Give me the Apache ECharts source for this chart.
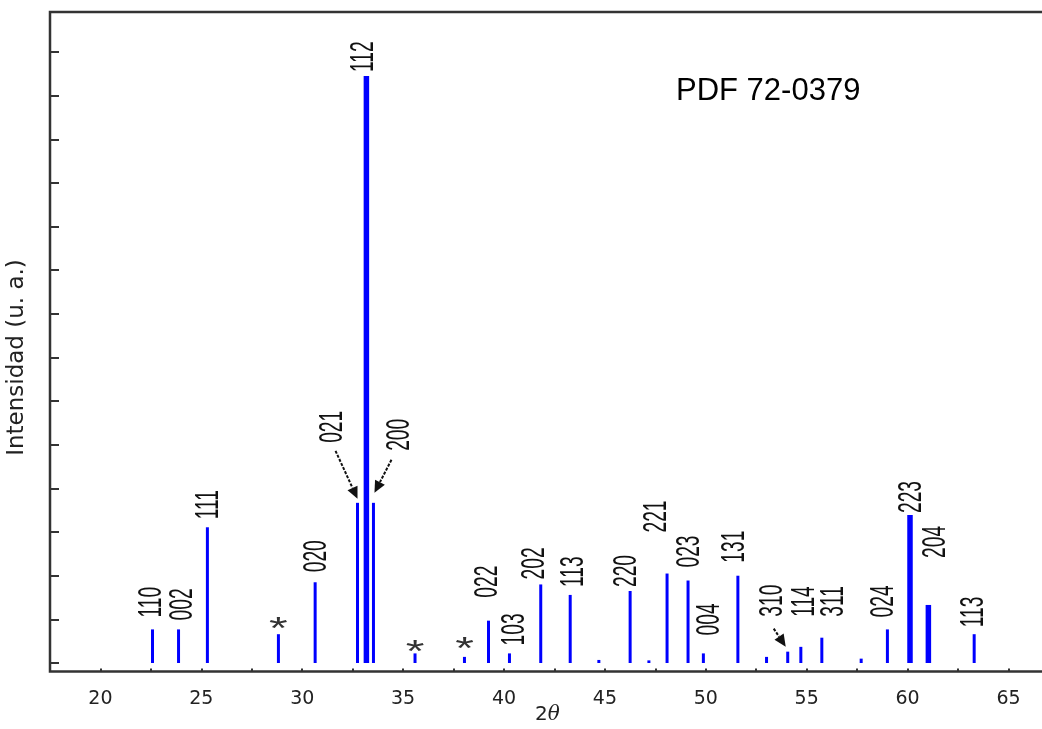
<!DOCTYPE html>
<html>
<head>
<meta charset="utf-8">
<script src="https://cdn.jsdelivr.net/npm/echarts@6/dist/echarts.min.js"></script>
<style>
html,body{margin:0;padding:0;background:#ffffff;}
#chart{width:1042px;height:729px;}
</style>
</head>
<body>
<div id="chart"></div>
<script>
// ---------------- DATA ----------------
// peak positions (2θ, degrees)
const twoTheta = [22.58, 23.87, 25.30, 28.82, 30.64, 32.74, 33.18, 33.53, 35.59, 38.04,
                  39.23, 40.27, 41.82, 43.28, 44.70, 46.25, 47.18, 48.08, 49.12, 49.88,
                  51.59, 53.01, 54.06, 54.71, 55.75, 57.70, 59.00, 60.12, 61.03, 63.30];
// relative intensities (arbitrary units, 10 units per y tick)
const intensity = [7.7, 7.7, 31.1, 6.6, 18.5, 36.7, 134.5, 36.7, 2.2, 1.4,
                   9.7, 2.2, 18.0, 15.6, 0.7, 16.5, 0.6, 20.5, 18.9, 2.2,
                   20.0, 1.4, 2.6, 3.7, 5.8, 1.0, 7.7, 33.9, 13.3, 6.6];
// Miller indices ('*' = impurity peak, '' = unlabeled)
const hkl = ['110','002','111','*','020','021','112','200','*','*',
             '022','103','202','113','','220','','221','023','004',
             '131','','310','114','311','','024','223','204','113'];
const xTickLabels = [20, 25, 30, 35, 40, 45, 50, 55, 60, 65];
const cardLabel = 'PDF 72-0379';
const yName = 'Intensidad (u. a.)';

// ---------------- LAYOUT / STYLE ----------------
const thickPeaks = ['112', '223', '204'];
// label nudges [dx px, gap px above bar top]
const labelNudge = {
  0:[-1,12], 1:[4.5,9], 2:[2,8], 4:[2,10], 5:[-25,60], 6:[-2,4], 7:[26,52],
  10:[-1,23], 11:[5,8], 12:[-6,5], 13:[4,8], 15:[-3.5,4], 17:[-10,41], 18:[1.5,13],
  19:[7,18], 20:[-3,13], 22:[-15,35], 23:[4,30], 24:[12,21], 26:[-4,12], 27:[2,2],
  28:[8,47], 29:[0,7]
};
const starGap = {3:11, 8:8, 9:14};
// arrows: [startDx, startDy, tipDx, tipDy] relative to bar top
const arrowSpec = {5:[-22,-52,0,-4], 7:[18,-43,1,-10], 22:[-14,-23,-2,-5]};

const X_MIN = 17.5, X_MAX = 66.81;
const BLUE = '#0000ff';

const chart = echarts.init(document.getElementById('chart'), null, {renderer:'canvas'});

function renderBar(params, api) {
  const i = params.dataIndex;
  const top = api.coord([api.value(0), api.value(1)]);
  const base = api.coord([api.value(0), 0]);
  const w = thickPeaks.indexOf(hkl[i]) >= 0 ? 5.5 : 3;
  return {
    type: 'rect',
    shape: {x: top[0] - w / 2, y: top[1], width: w, height: base[1] - top[1]},
    style: {fill: BLUE}
  };
}

function renderLabel(params, api) {
  const i = params.dataIndex;
  const name = hkl[i];
  if (!name) return null;
  const p = api.coord([api.value(0), api.value(1)]);
  if (name === '*') {
    const g = starGap[i] || 10;
    return {
      type: 'text', x: p[0], y: p[1] - g + 7.4, scaleX: 1.5, scaleY: 1,
      style: {text: '*', font: '32px "Liberation Sans", Arial, sans-serif', fill: '#333',
              align: 'center', verticalAlign: 'middle'}
    };
  }
  const nd = labelNudge[i] || [0, 8];
  const children = [{
    type: 'text', x: p[0] + nd[0], y: p[1] - nd[1], rotation: Math.PI / 2,
    scaleX: 0.96, scaleY: 1.65,
    style: {text: name, font: '20px "Liberation Sans", Arial, sans-serif', fill: '#111',
            align: 'left', verticalAlign: 'middle'}
  }];
  const a = arrowSpec[i];
  if (a) {
    const sx = p[0] + a[0], sy = p[1] + a[1], tx = p[0] + a[2], ty = p[1] + a[3];
    const ang = Math.atan2(ty - sy, tx - sx);
    const L = 12, H = 5.5;
    const bx = tx - L * Math.cos(ang), by = ty - L * Math.sin(ang);
    children.push({type: 'line', shape: {x1: sx, y1: sy, x2: bx, y2: by},
                   style: {stroke: '#111', lineWidth: 2, lineDash: [3, 1.5]}});
    children.push({type: 'polygon',
                   shape: {points: [[tx, ty],
                                    [bx - H * Math.sin(ang), by + H * Math.cos(ang)],
                                    [bx + H * Math.sin(ang), by - H * Math.cos(ang)]]},
                   style: {fill: '#111'}});
  }
  return {type: 'group', children: children};
}

const peakData = twoTheta.map((x, i) => [x, intensity[i]]);

const option = {
  animation: false,
  backgroundColor: '#ffffff',
  title: {
    text: cardLabel, left: 671, top: 71,
    textStyle: {fontFamily: '"Liberation Sans", Arial, sans-serif', fontSize: 31,
                fontWeight: 'normal', color: '#000'}
  },
  grid: [
    {left: 50, right: -3, top: 52, bottom: 66, show: false, outerBoundsMode: 'none', containLabel: false},
    {left: 50, right: -3, top: 12, bottom: 57.5, show: true, outerBoundsMode: 'none', containLabel: false,
     borderColor: '#333', borderWidth: 2.5, backgroundColor: 'transparent'}
  ],
  xAxis: [
    {type: 'value', gridIndex: 0, min: X_MIN, max: X_MAX, show: false},
    {type: 'value', gridIndex: 1, min: X_MIN, max: X_MAX, interval: 2.5,
     position: 'bottom',
     name: '2{t|θ}', nameLocation: 'middle', nameGap: 33, nameMoveOverlap: false,
     nameTextStyle: {fontFamily: '"DejaVu Sans", sans-serif', fontSize: 20, color: '#222',
                     rich: {t: {fontFamily: '"DejaVu Serif", serif', fontStyle: 'italic',
                                fontSize: 20, color: '#222'}}},
     axisLine: {show: false},
     axisTick: {show: true, inside: true, length: 3, lineStyle: {color: '#333', width: 2}},
     splitLine: {show: false},
     axisLabel: {show: true, margin: 18, color: '#222',
                 fontFamily: '"DejaVu Sans", sans-serif', fontSize: 19,
                 formatter: function (v) {
                   const r = Math.round(v);
                   return (Math.abs(v - r) < 1e-6 && xTickLabels.indexOf(r) >= 0) ? String(r) : '';
                 }}}
  ],
  yAxis: [
    {type: 'value', gridIndex: 0, min: 0, max: 140, interval: 10,
     name: yName, nameLocation: 'middle', nameRotate: 90, nameGap: 21,
     nameTextStyle: {fontFamily: '"DejaVu Sans", sans-serif', fontSize: 23, color: '#222'},
     axisLine: {show: false},
     axisTick: {show: true, inside: true, length: 9, lineStyle: {color: '#333', width: 2}},
     axisLabel: {show: false},
     splitLine: {show: false}},
    {type: 'value', gridIndex: 1, min: 0, max: 1, show: false}
  ],
  series: [
    {type: 'custom', name: 'peaks', xAxisIndex: 0, yAxisIndex: 0,
     data: peakData, encode: {x: 0, y: 1}, renderItem: renderBar, z: 2, silent: true},
    {type: 'custom', name: 'labels', xAxisIndex: 0, yAxisIndex: 0,
     data: peakData, encode: {x: 0, y: 1}, renderItem: renderLabel, z: 3, silent: true}
  ]
};
chart.setOption(option);
</script>
</body>
</html>
